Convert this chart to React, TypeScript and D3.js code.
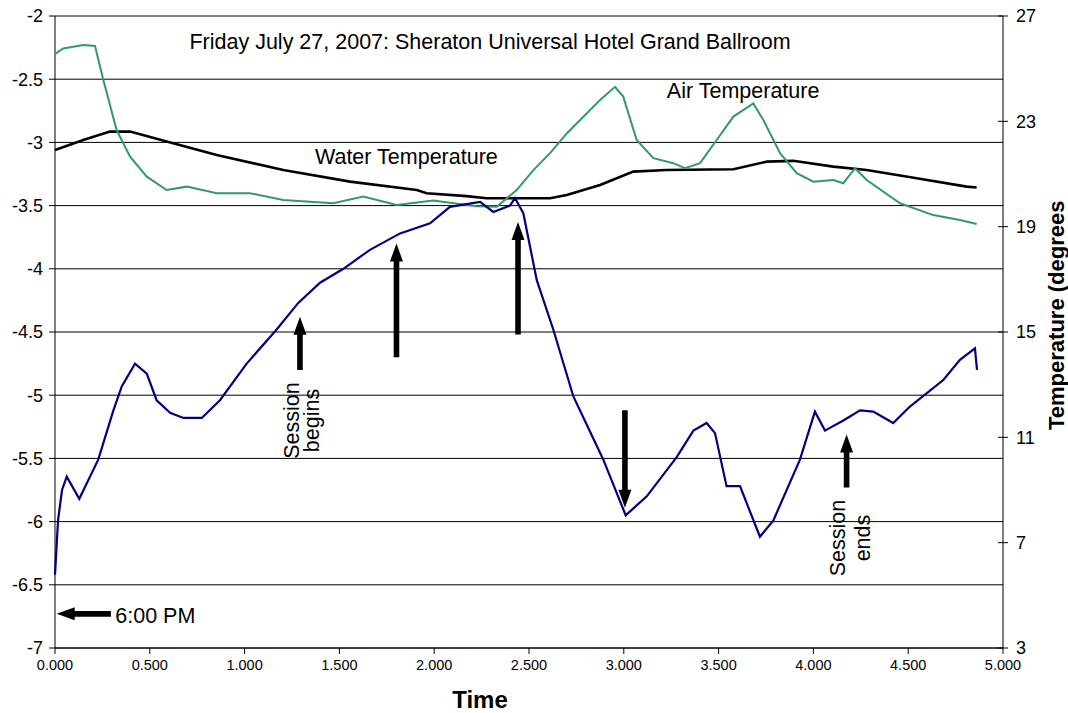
import React from 'react';
import * as d3 from 'd3';

// plot frame
const W = 1068;
const H = 713;
const margin = { top: 16, right: 65, bottom: 65, left: 55 };
const innerW = W - margin.left - margin.right;
const innerH = H - margin.top - margin.bottom;
const font = 'Liberation Sans, Arial, sans-serif';

// time in hours since 6:00 PM
const xTicks = [0, 0.5, 1, 1.5, 2, 2.5, 3, 3.5, 4, 4.5, 5];
const leftTicks = [-2, -2.5, -3, -3.5, -4, -4.5, -5, -5.5, -6, -6.5, -7];
const rightTicks = [3, 7, 11, 15, 19, 23, 27];

// main measurement (left axis)
const blueTime = [0, 0.016, 0.037, 0.062, 0.128, 0.228, 0.308, 0.352, 0.422, 0.484, 0.536, 0.607, 0.677, 0.774, 0.87, 1.011, 1.169, 1.283, 1.398, 1.521, 1.661, 1.82, 1.978, 2.083, 2.242, 2.312, 2.4, 2.426, 2.47, 2.541, 2.628, 2.734, 2.892, 3.01, 3.121, 3.279, 3.367, 3.437, 3.481, 3.542, 3.613, 3.718, 3.789, 3.929, 4.008, 4.061, 4.158, 4.246, 4.316, 4.421, 4.509, 4.685, 4.773, 4.852, 4.863];
const blueValue = [-6.42, -5.99, -5.75, -5.645, -5.82, -5.51, -5.12, -4.93, -4.75, -4.83, -5.04, -5.14, -5.18, -5.18, -5.04, -4.75, -4.48, -4.27, -4.11, -4.0, -3.85, -3.72, -3.64, -3.51, -3.47, -3.55, -3.5, -3.44, -3.56, -4.09, -4.48, -5.01, -5.51, -5.95, -5.8, -5.49, -5.28, -5.22, -5.3, -5.72, -5.72, -6.12, -5.99, -5.51, -5.13, -5.28, -5.2, -5.12, -5.13, -5.22, -5.09, -4.88, -4.72, -4.63, -4.8];

// air temperature (right axis)
const airTime = [0, 0.044, 0.149, 0.211, 0.255, 0.325, 0.396, 0.484, 0.589, 0.695, 0.853, 1.028, 1.204, 1.468, 1.626, 1.802, 1.995, 2.224, 2.33, 2.435, 2.523, 2.611, 2.699, 2.875, 2.954, 2.997, 3.068, 3.156, 3.261, 3.323, 3.402, 3.49, 3.578, 3.683, 3.736, 3.824, 3.912, 4.0, 4.105, 4.158, 4.219, 4.281, 4.457, 4.632, 4.773, 4.861];
const airValue = [25.56, 25.77, 25.9, 25.86, 24.57, 22.67, 21.66, 20.9, 20.39, 20.52, 20.27, 20.27, 20.01, 19.89, 20.14, 19.82, 19.99, 19.78, 19.76, 20.39, 21.15, 21.79, 22.54, 23.81, 24.31, 23.94, 22.29, 21.6, 21.41, 21.22, 21.41, 22.29, 23.18, 23.68, 23.05, 21.79, 21.03, 20.71, 20.77, 20.65, 21.22, 20.77, 19.89, 19.44, 19.25, 19.1];

// water temperature (right axis)
const waterTime = [0, 0.149, 0.29, 0.396, 0.589, 0.853, 1.204, 1.556, 1.908, 1.96, 2.171, 2.277, 2.611, 2.699, 2.875, 3.05, 3.226, 3.578, 3.754, 3.894, 4.105, 4.281, 4.545, 4.808, 4.861];
const waterValue = [21.91, 22.29, 22.61, 22.61, 22.23, 21.72, 21.15, 20.71, 20.39, 20.27, 20.16, 20.08, 20.08, 20.2, 20.58, 21.09, 21.15, 21.18, 21.47, 21.5, 21.28, 21.15, 20.84, 20.52, 20.49];

// annotation arrows: [time, from, to] on left-axis scale
const vArrows = [
  [1.292, -4.8, -4.38],
  [1.801, -4.7, -3.8],
  [2.442, -4.52, -3.63],
  [3.006, -5.12, -5.89],
  [4.175, -5.73, -5.31],
];

const x = d3.scaleLinear().domain([0, 5]).range([0, innerW]);
const yL = d3.scaleLinear().domain([-7, -2]).range([innerH, 0]);
const yR = d3.scaleLinear().domain([3, 27]).range([innerH, 0]);

const zip = (t: number[], v: number[]) => t.map((d, i) => [d, v[i]] as [number, number]);

function arrowPath(x0: number, y0: number, x1: number, y1: number) {
  // shaft + head, drawn as one polygon
  const len = Math.hypot(x1 - x0, y1 - y0);
  const ux = (x1 - x0) / len, uy = (y1 - y0) / len;
  const px = -uy, py = ux;
  const hl = 18, hw = 6.5, sw = 2.8;
  const bx = x1 - ux * hl, by = y1 - uy * hl;
  const pts = [
    [x0 + px * sw, y0 + py * sw],
    [bx + px * sw, by + py * sw],
    [bx + px * hw, by + py * hw],
    [x1, y1],
    [bx - px * hw, by - py * hw],
    [bx - px * sw, by - py * sw],
    [x0 - px * sw, y0 - py * sw],
  ];
  return 'M' + pts.map(p => p.join(',')).join('L') + 'Z';
}

const App: React.FC = () => {
  const lineL = d3.line<[number, number]>().x(d => x(d[0])).y(d => yL(d[1]));
  const lineR = d3.line<[number, number]>().x(d => x(d[0])).y(d => yR(d[1]));

  return (
    <svg width={W} height={H} style={{ position: 'absolute', left: 0, top: 0, background: '#fff' }} fontFamily={font}>
      <g transform={`translate(${margin.left},${margin.top})`}>
        {/* gridlines */}
        {leftTicks.map(t => (
          <line key={'g' + t} x1={0} x2={innerW} y1={yL(t)} y2={yL(t)} stroke="#000" strokeWidth={1} />
        ))}
        {/* left axis */}
        <line x1={0} x2={0} y1={0} y2={innerH} stroke="#000" />
        {leftTicks.map(t => (
          <g key={'l' + t}>
            <line x1={-6} x2={0} y1={yL(t)} y2={yL(t)} stroke="#000" />
            <text x={-12} y={yL(t)} dy="0.35em" textAnchor="end" fontSize={18}>{t}</text>
          </g>
        ))}
        {/* right axis */}
        <line x1={innerW} x2={innerW} y1={0} y2={innerH} stroke="#000" />
        {rightTicks.map(t => (
          <g key={'r' + t}>
            <line x1={innerW - 5} x2={innerW + 5} y1={yR(t)} y2={yR(t)} stroke="#000" />
            <text x={innerW + 13} y={yR(t)} dy="0.35em" fontSize={18}>{t}</text>
          </g>
        ))}
        {/* x axis */}
        <line x1={0} x2={innerW} y1={innerH} y2={innerH} stroke="#000" />
        {xTicks.map(t => (
          <g key={'x' + t}>
            <line x1={x(t)} x2={x(t)} y1={innerH} y2={innerH + 6} stroke="#000" />
            <text x={x(t)} y={innerH + 22} textAnchor="middle" fontSize={14.5}>{d3.format('.3f')(t)}</text>
          </g>
        ))}

        {/* series */}
        <path d={lineR(zip(waterTime, waterValue)) || ''} fill="none" stroke="#000" strokeWidth={2.6} />
        <path d={lineR(zip(airTime, airValue)) || ''} fill="none" stroke="#339966" strokeWidth={2} />
        <path d={lineL(zip(blueTime, blueValue)) || ''} fill="none" stroke="#000080" strokeWidth={2.2} />

        {/* arrows */}
        {vArrows.map((a, i) => (
          <path key={'a' + i} d={arrowPath(x(a[0]), yL(a[1]), x(a[0]), yL(a[2]))} fill="#000" />
        ))}
        <path d={arrowPath(x(0.295), yL(-6.73), x(0.009), yL(-6.73))} fill="#000" />

        {/* labels */}
        <text x={x(0.318)} y={yL(-6.8)} fontSize={21.5}>6:00 PM</text>
        <text x={x(1.371)} y={yL(-3.17)} fontSize={21.5}>Water Temperature</text>
        <text x={x(3.227)} y={yL(-2.65)} fontSize={21.5}>Air Temperature</text>
        <text transform={`translate(${x(1.287)},${yL(-5.2)}) rotate(-90)`} textAnchor="middle" fontSize={21.5}>Session</text>
        <text transform={`translate(${x(1.392)},${yL(-5.2)}) rotate(-90)`} textAnchor="middle" fontSize={21.5}>begins</text>
        <text transform={`translate(${x(4.167)},${yL(-6.13)}) rotate(-90)`} textAnchor="middle" fontSize={21.5}>Session</text>
        <text transform={`translate(${x(4.298)},${yL(-6.13)}) rotate(-90)`} textAnchor="middle" fontSize={21.5}>ends</text>
      </g>

      {/* title and axis titles */}
      <text x={490} y={49} textAnchor="middle" fontSize={21.5}>Friday July 27, 2007: Sheraton Universal Hotel Grand Ballroom</text>
      <text x={480} y={708} textAnchor="middle" fontSize={24} fontWeight="bold">Time</text>
      <text transform="translate(1064,430) rotate(-90)" fontSize={22} fontWeight="bold">Temperature (degrees</text>
    </svg>
  );
};

export default App;
